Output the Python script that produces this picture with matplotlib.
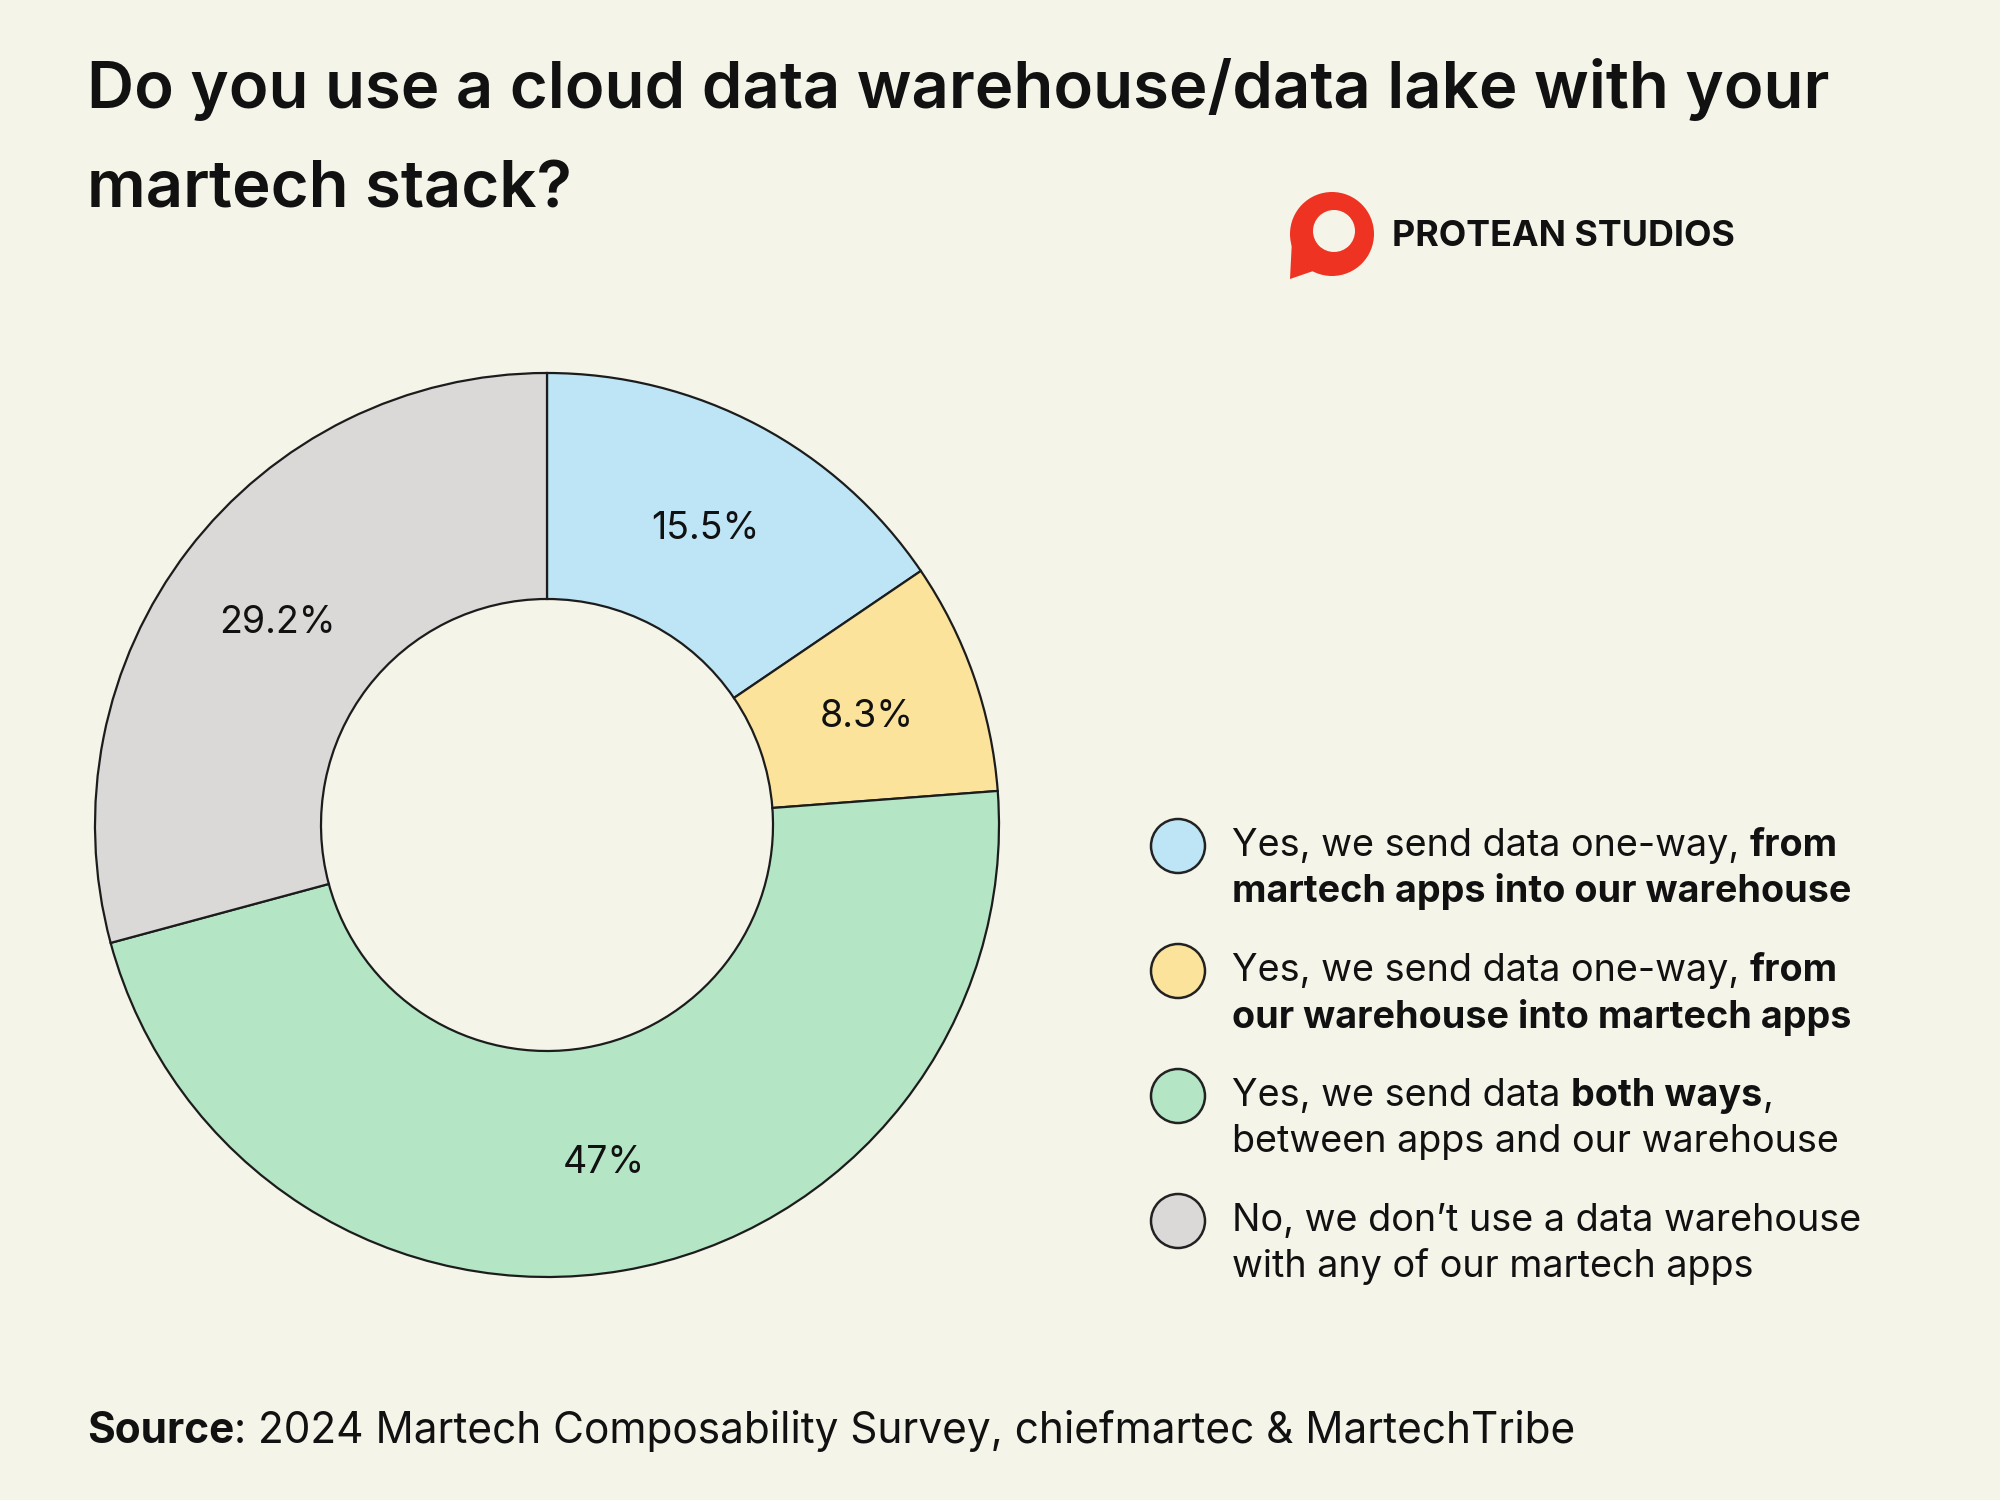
import matplotlib
matplotlib.use("Agg")
import matplotlib.pyplot as plt
from matplotlib.patches import Polygon, Ellipse

plt.rcParams['font.family'] = ['Inter', 'DejaVu Sans']

# ---- data ----
categories = [
    "Yes, we send data one-way, from martech apps into our warehouse",
    "Yes, we send data one-way, from our warehouse into martech apps",
    "Yes, we send data both ways, between apps and our warehouse",
    "No, we don't use a data warehouse with any of our martech apps",
]
values = [15.5, 8.3, 47.0, 29.2]
colors = ["#BDE5F6", "#FBE39C", "#B4E6C6", "#DAD9D8"]
legend_lines = [
    [[("Yes, we send data one-way, ", "normal"), ("from", "bold")],
     [("martech apps into our warehouse", "bold")]],
    [[("Yes, we send data one-way, ", "normal"), ("from", "bold")],
     [("our warehouse into martech apps", "bold")]],
    [[("Yes, we send data ", "normal"), ("both ways", "bold"), (",", "normal")],
     [("between apps and our warehouse", "normal")]],
    [[("No, we don\u2019t use a data warehouse", "normal")],
     [("with any of our martech apps", "normal")]],
]
title_lines = ["Do you use a cloud data warehouse/data lake with your", "martech stack?"]
source_parts = [("Source", "bold"), (": 2024 Martech Composability Survey, chiefmartec & MartechTribe", "normal")]

BG = "#F5F4E8"
W, H = 2000, 1500
fig = plt.figure(figsize=(20, 15), dpi=100, facecolor=BG)

def fx(px):
    return px / W

def fy(py):
    return 1 - py / H

# Title
for line, yb in zip(title_lines, [108, 207]):
    fig.text(fx(87), fy(yb), line, fontsize=47, fontweight='semibold', color='#111111',
             va='baseline', ha='left')

# Donut
R = 452
cx, cy = 547, 825
ax = fig.add_axes([fx(cx - R), fy(cy + R), 2 * R / W, 2 * R / H])
ax.set_facecolor(BG)

def fmt(p):
    s = f"{p:.1f}"
    if s.endswith(".0"):
        s = s[:-2]
    return s + "%"

wedges, texts, autotexts = ax.pie(
    values, colors=colors, startangle=90, counterclock=False, radius=1,
    autopct=fmt, pctdistance=0.75,
    wedgeprops=dict(width=0.5, edgecolor='#1c1c1c', linewidth=1.6),
    textprops=dict(fontsize=27, color='#111111'))
for t in autotexts:
    t.set_va('center_baseline')
ax.set_xlim(-1.0, 1.0)
ax.set_ylim(-1.0, 1.0)
ax.set_aspect('equal')
ax.axis('off')

# Legend
fig.canvas.draw()
renderer = fig.canvas.get_renderer()

def rich(x_px, y_px, parts, size, va='center'):
    x = x_px
    for text, weight in parts:
        t = fig.text(fx(x), fy(y_px), text, fontsize=size, fontweight=weight,
                     color='#111111', va=va, ha='left')
        bb = t.get_window_extent(renderer)
        x += bb.width

legend_y = [846, 971, 1096, 1221]
for i, (yy, lines) in enumerate(zip(legend_y, legend_lines)):
    c = Ellipse((fx(1178), fy(yy)), 54 / W, 54 / H,
                transform=fig.transFigure, facecolor=colors[i],
                edgecolor='#222222', linewidth=1.8)
    fig.add_artist(c)
    rich(1232, yy, lines[0], 27.2)
    rich(1232, yy + 46, lines[1], 27.2)

# Source
rich(87, 1443, source_parts, 30.5, va='baseline')

# Logo
red = "#EE3322"
ring = Ellipse((fx(1332), fy(234)), 84 / W, 84 / H,
               transform=fig.transFigure, facecolor=red, edgecolor='none')
fig.add_artist(ring)
tail = Polygon([(fx(1292), fy(240)), (fx(1290), fy(279)), (fx(1322), fy(268))],
               closed=True, transform=fig.transFigure, facecolor=red, edgecolor='none')
fig.add_artist(tail)
hole = Ellipse((fx(1334), fy(231)), 42 / W, 42 / H,
               transform=fig.transFigure, facecolor=BG, edgecolor='none')
fig.add_artist(hole)
fig.text(fx(1392), fy(237), "PROTEAN STUDIOS", fontsize=25.8, fontweight='bold',
         color='#111111', va='center', ha='left')

fig.savefig("out.png", dpi=100, facecolor=BG)
